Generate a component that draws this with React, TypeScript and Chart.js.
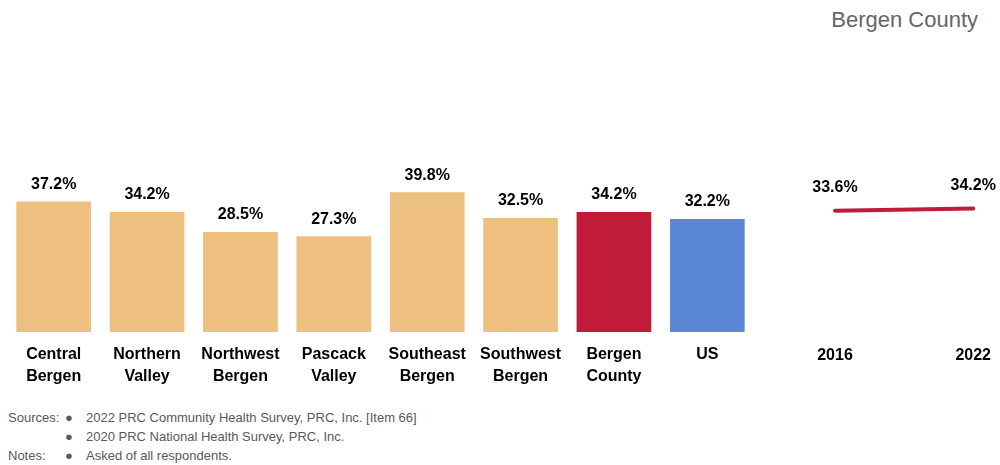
import React, { useEffect, useRef } from "react";
import { Chart, registerables } from "chart.js";

Chart.register(...registerables);

const categories: string[][] = [
  ["Central", "Bergen"],
  ["Northern", "Valley"],
  ["Northwest", "Bergen"],
  ["Pascack", "Valley"],
  ["Southeast", "Bergen"],
  ["Southwest", "Bergen"],
  ["Bergen", "County"],
  ["US"],
];
const barValues: number[] = [37.2, 34.2, 28.5, 27.3, 39.8, 32.5, 34.2, 32.2];
const barColors: string[] = [
  "#EDC07F", "#EDC07F", "#EDC07F", "#EDC07F", "#EDC07F", "#EDC07F", "#C01B38", "#5B87D6",
];
const years: string[] = ["2016", "2022"];
const trendValues: number[] = [33.6, 34.2];

const FONT = "'Liberation Sans', Arial, sans-serif";

const labelPlugin = (offset: number) => ({
  id: "valueLabels",
  afterDatasetsDraw(chart: any) {
    const ctx = chart.ctx;
    ctx.save();
    ctx.font = `bold 16px ${FONT}`;
    ctx.fillStyle = "#000";
    ctx.textAlign = "center";
    ctx.textBaseline = "middle";
    const meta = chart.getDatasetMeta(0);
    const data = chart.data.datasets[0].data;
    meta.data.forEach((el: any, i: number) => {
      ctx.fillText(data[i].toFixed(1) + "%", el.x, el.y - offset);
    });
    ctx.restore();
  },
});

const xAxis = {
  grid: { display: false, drawTicks: false },
  border: { display: false },
  ticks: {
    color: "#000",
    font: { family: FONT, size: 16, weight: "bold" as const, lineHeight: 1.375 },
    padding: 12,
    maxRotation: 0,
    autoSkip: false,
  },
};

export default function App() {
  const barRef = useRef<HTMLCanvasElement>(null);
  const lineRef = useRef<HTMLCanvasElement>(null);

  useEffect(() => {
    const bar = new Chart(barRef.current!, {
      type: "bar",
      data: {
        labels: categories,
        datasets: [{ data: barValues, backgroundColor: barColors, barPercentage: 0.8, categoryPercentage: 1 }],
      },
      options: {
        animation: false,
        responsive: false,
        layout: { padding: { top: 56.5, bottom: 0, left: 0, right: 0 } },
        plugins: { legend: { display: false }, tooltip: { enabled: false } },
        scales: {
          x: xAxis as any,
          y: { display: false, min: 0, max: 50 },
        },
      },
      plugins: [labelPlugin(17)],
    });
    const line = new Chart(lineRef.current!, {
      type: "line",
      data: {
        labels: years,
        datasets: [{ data: trendValues, borderColor: "#C01B38", borderWidth: 4, pointRadius: 0, borderCapStyle: "round" }],
      },
      options: {
        animation: false,
        responsive: false,
        layout: { padding: { top: 56.5, bottom: 21, left: 70, right: 19 } },
        plugins: { legend: { display: false }, tooltip: { enabled: false } },
        scales: {
          x: { ...(xAxis as any), offset: false },
          y: { display: false, min: 0, max: 48.5 },
        },
      },
      plugins: [labelPlugin(23)],
    });
    return () => {
      bar.destroy();
      line.destroy();
    };
  }, []);

  const foot: React.CSSProperties = {
    position: "absolute",
    fontFamily: FONT,
    fontSize: 13,
    color: "#595959",
    whiteSpace: "nowrap",
    lineHeight: "16px",
  };

  return (
    <div style={{ position: "absolute", left: 0, top: 0, width: 1000, height: 465, background: "#fff", overflow: "hidden" }}>
      <div style={{ position: "absolute", right: 22, top: 7, fontFamily: FONT, fontSize: 22, color: "#666" }}>Bergen County</div>
      <canvas ref={barRef} width={747} height={300} style={{ position: "absolute", left: 7, top: 100 }} />
      <canvas ref={lineRef} width={238} height={300} style={{ position: "absolute", left: 765, top: 100 }} />
      <div style={{ ...foot, left: 8, top: 410 }}>Sources:</div>
      <div style={{ ...foot, left: 65, top: 410 }}>●</div>
      <div style={{ ...foot, left: 86, top: 410 }}>2022 PRC Community Health Survey, PRC, Inc. [Item 66]</div>
      <div style={{ ...foot, left: 65, top: 429 }}>●</div>
      <div style={{ ...foot, left: 86, top: 429 }}>2020 PRC National Health Survey, PRC, Inc.</div>
      <div style={{ ...foot, left: 8, top: 448 }}>Notes:</div>
      <div style={{ ...foot, left: 65, top: 448 }}>●</div>
      <div style={{ ...foot, left: 86, top: 448 }}>Asked of all respondents.</div>
    </div>
  );
}
